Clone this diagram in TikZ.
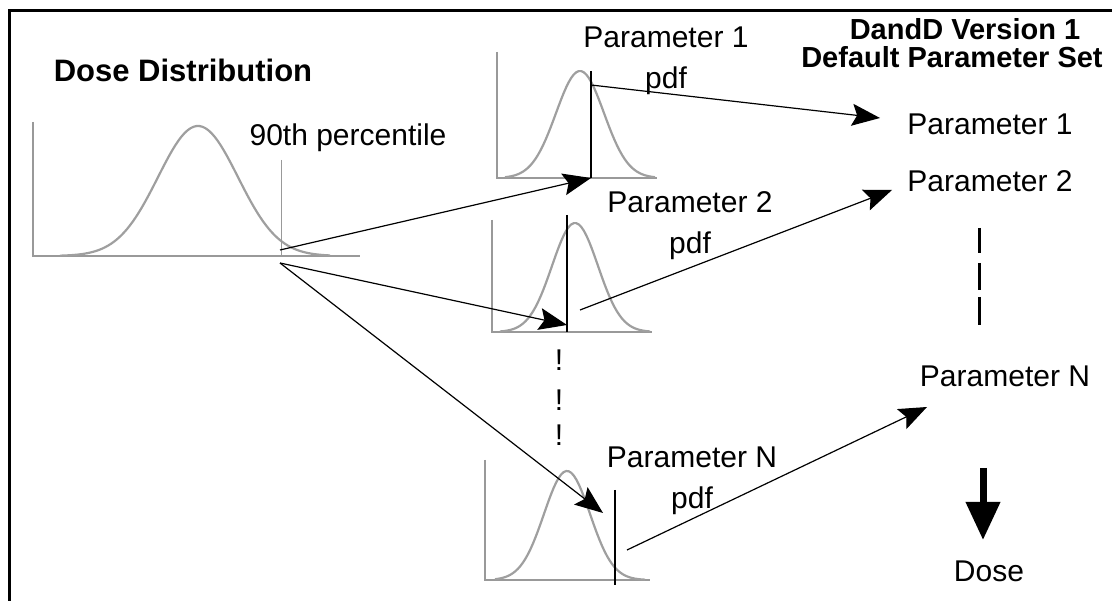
\documentclass[tikz,border=0pt]{standalone}
\usepackage{fontspec}
\setmainfont{Liberation Sans}
\usetikzlibrary{arrows.meta}

\begin{document}
\begin{tikzpicture}[x=1pt, y=-1pt,
    txt/.style={font=\fontsize{30}{41}\selectfont, inner sep=0pt},
    head/.style={font=\fontsize{31}{36}\selectfont\bfseries, inner sep=0pt},
    axis/.style={gray!80, line width=1.2pt},
    bell/.style={gray!75, line width=2.2pt},
    cut/.style={black, line width=1.2pt},
    link/.style={line width=1.2pt, -{Stealth[length=28pt, width=22pt, inset=5pt]}}]

    \useasboundingbox (0,0) rectangle (1112,601);

    % Frame
    \draw[line width=3pt] (9,601) -- (9,11) -- (1112,11);

    % Dose distribution
    \node[head] (dosetitle) at (183,70) {Dose Distribution};
    \draw[axis] (33,122) -- (33,256) -- (360,256);
    \draw[bell] plot[domain=60:330, samples=90] (\x, {256-130*exp(-0.5*((\x-198)/40)^2)});
    \draw[axis, line width=1pt] (281,160) -- (281,256);
    \node[txt] (pct) at (348,138) {90th percentile};
    \coordinate (cutA) at (280,250);
    \coordinate (cutB) at (280,263);

        % Parameter 1 pdf
        \draw[axis] (497,52) -- (497,178) -- (657,178);
        \draw[bell] plot[domain=505:655, samples=60] (\x, {178-107*exp(-0.5*((\x-580)/24)^2)});
        \draw[cut] (591,71) -- (591,178);
        \coordinate (pdfA) at (591,178);
        \coordinate (pdfAtop) at (591,85);
        \node[txt, align=center] (lblA) at (666,61) {Parameter 1\\pdf};

        % Parameter 2 pdf
        \draw[axis] (492,220) -- (492,332) -- (652,332);
        \draw[bell] plot[domain=500:650, samples=60] (\x, {332-109*exp(-0.5*((\x-575)/23)^2)});
        \draw[cut] (567,215) -- (567,332);
        \coordinate (pdfB) at (567,325);
        \coordinate (pdfBmid) at (580,310);
        \node[txt, align=center] (lblB) at (690,226) {Parameter 2\\pdf};

        % Skipped parameters
        \foreach \y [count=\i] in {360,400,435}
        {
            \node[txt] (bang\i) at (559,\y) {!};
        }

        % Parameter N pdf
        \draw[axis] (485,460) -- (485,580) -- (650,580);
        \draw[bell] plot[domain=495:645, samples=60] (\x, {580-109*exp(-0.5*((\x-567)/23)^2)});
        \draw[cut] (615,490) -- (615,585);
        \coordinate (pdfC) at (603,513);
        \coordinate (pdfCfoot) at (627,550);
        \node[txt, align=center] (lblC) at (692,481) {Parameter N\\pdf};

            % Default parameter set
            \node[head, font=\fontsize{29}{34}\selectfont\bfseries, anchor=base, text depth=0pt] (dandd) at (965,40) {DandD Version 1};
            \node[head, font=\fontsize{29}{34}\selectfont\bfseries, anchor=base, text depth=0pt] (defset) at (952,68) {Default Parameter Set};
            \node[txt] (setA) at (990,124) {Parameter 1};
            \node[txt] (setB) at (990,181) {Parameter 2};
            \node[txt] (setN) at (1005,376) {Parameter N};
            \node[txt] (dose) at (989,571) {Dose};
            \coordinate (tipA) at (880,118);
            \coordinate (tipB) at (892,190);
            \coordinate (tipN) at (927,407);
            \foreach \a/\b in {228/253, 263/290, 297/325}
            {
                \draw[line width=3pt] (979,\a) -- (979,\b);
            }
            \coordinate (downtop) at (983,468);
            \coordinate (downtip) at (983,540);
            \draw[line width=7pt, -{Triangle[length=38pt, width=33pt]}] (downtop) -- (downtip);

    % Picking the percentile values
    \draw[link] (cutA) -- (pdfA);
    \draw[link] (cutB) -- (pdfB);
    \draw[link] (cutB) -- (pdfC);
    \draw[link] (pdfAtop) -- (tipA);
    \draw[link] (pdfBmid) -- (tipB);
    \draw[link] (pdfCfoot) -- (tipN);
\end{tikzpicture}
\end{document}
